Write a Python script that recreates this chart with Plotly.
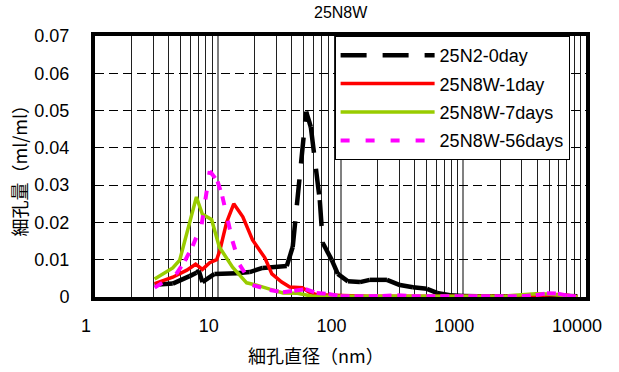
import plotly.graph_objects as go

# ---- data (pore diameter in nm, pore volume in ml/ml) ----
x_0day = [3.06, 4.3, 5.9, 6.7, 7.0, 7.5, 9.4, 14.3, 18.2, 23.2, 36.5, 40.8, 52.5, 57.3,
          67.8, 71.7, 85, 95, 115, 144, 173, 239, 305, 389, 506, 611, 780, 1000, 1300,
          1700, 2200, 2800, 3600, 4600, 5800, 7000, 8500]
y_0day = [0.0033, 0.0036, 0.0056, 0.0065, 0.0071, 0.0040, 0.0062, 0.0064, 0.0067, 0.0078,
          0.0083, 0.0134, 0.0497, 0.0456, 0.0260, 0.0145, 0.0099, 0.0062, 0.0042, 0.0040,
          0.0046, 0.0046, 0.0032, 0.0026, 0.0022, 0.0011, 0.0005, 0.0003, 0.0002, 0.0002,
          0.0002, 0.0002, 0.0003, 0.0004, 0.0005, 0.0003, 0.0002]

x_1day = [3.06, 4.3, 5.6, 6.6, 7.5, 8.6, 9.8, 10.4, 11.8, 13.5, 16.0, 19.2, 24.2, 27.6,
          33.2, 38.6, 49, 56, 64, 80, 100, 130, 170, 220, 290, 380, 500, 650, 850, 1100,
          1400, 1800, 2300, 3000, 3900, 4800, 5900, 7000, 8500]
y_1day = [0.0036, 0.0053, 0.0072, 0.0088, 0.0074, 0.0092, 0.0100, 0.0125, 0.0200, 0.0250,
          0.0215, 0.0153, 0.0105, 0.0062, 0.0040, 0.0027, 0.0025, 0.0012, 0.0006, 0.0005,
          0.0003, 0.0002, 0.0002, 0.0002, 0.0002, 0.0001, 0.0001, 0.0001, 0.0001, 0.0001,
          0.0001, 0.0001, 0.0001, 0.0002, 0.0004, 0.0006, 0.0007, 0.0005, 0.0001]

x_7days = [3.06, 4.3, 4.9, 6.7, 7.5, 8.9, 10.3, 13.2, 17.2, 20.7, 26.5, 34, 44.6, 59,
           80, 100, 130, 170, 220, 290, 380, 500, 650, 850, 1100, 1400, 1800, 2300, 3000,
           3900, 4800, 5900, 7000, 8500]
y_7days = [0.0048, 0.0078, 0.0099, 0.0268, 0.0222, 0.0208, 0.0134, 0.0080, 0.0038, 0.0032,
           0.0021, 0.0011, 0.0010, 0.0002, 0.0002, 0.0002, 0.0002, 0.0002, 0.0002, 0.0002,
           0.0002, 0.0002, 0.0002, 0.0002, 0.0002, 0.0002, 0.0002, 0.0003, 0.0006, 0.0009,
           0.0008, 0.0006, 0.0004, 0.0001]

x_56days = [3.06, 4.6, 5.4, 6.25, 7.4, 8.6, 9.97, 10.9, 13.2, 15.1, 19.2, 26.5, 34, 42,
            52, 64, 80, 100, 130, 170, 220, 290, 380, 500, 650, 850, 1100, 1400, 1800,
            2300, 3000, 3900, 4800, 5900, 7000, 8500]
y_56days = [0.0025, 0.0062, 0.0097, 0.0137, 0.0195, 0.0338, 0.0310, 0.0270, 0.0150, 0.0086,
            0.0032, 0.0019, 0.0013, 0.0017, 0.0021, 0.0011, 0.0008, 0.0002, 0.0002, 0.0002,
            0.0003, 0.0005, 0.0002, 0.0002, 0.0002, 0.0002, 0.0002, 0.0002, 0.0002, 0.0002,
            0.0002, 0.0005, 0.0010, 0.0009, 0.0004, 0.0001]

names = ["25N2-0day", "25N8W-1day", "25N8W-7days", "25N8W-56days"]
x_ticks = [1, 10, 100, 1000, 10000]
y_ticks = [0, 0.01, 0.02, 0.03, 0.04, 0.05, 0.06, 0.07]


def segments(xs, ys):
    """Split a polyline into separate sub-paths so dash patterns restart at each point."""
    sx, sy = [], []
    for i in range(len(xs) - 1):
        sx += [xs[i], xs[i + 1], None]
        sy += [ys[i], ys[i + 1], None]
    return sx, sy


fig = go.Figure()

bx, by = segments(x_0day, y_0day)
fig.add_trace(go.Scatter(x=bx, y=by, mode="lines", name=names[0], legendgroup="g0",
                         connectgaps=False,
                         line=dict(color="black", width=4.5, dash="26px,16px")))
fig.add_trace(go.Scatter(x=x_1day, y=y_1day, mode="lines", name=names[1], legendgroup="g1",
                         line=dict(color="#ff0000", width=3.5)))
fig.add_trace(go.Scatter(x=x_7days, y=y_7days, mode="lines", name=names[2], legendgroup="g2",
                         line=dict(color="#99cc00", width=3.5)))
mx, my = segments(x_56days, y_56days)
fig.add_trace(go.Scatter(x=mx, y=my, mode="lines", name=names[3], legendgroup="g3",
                         connectgaps=False,
                         line=dict(color="#ff00ff", width=4, dash="9px,16px")))

minor_vals = [m * d for d in [1, 10, 100, 1000] for m in range(2, 10)]

fig.update_xaxes(type="log", range=[0, 4], tickvals=x_ticks,
                 ticktext=[str(v) for v in x_ticks],
                 showgrid=True, gridcolor="#808080", gridwidth=1.5,
                 minor=dict(tickvals=minor_vals, showgrid=True, gridcolor="#202020",
                            gridwidth=1, ticks=""),
                 showline=True, mirror=True, linecolor="black", linewidth=4,
                 ticks="", ticklabelstandoff=9, ticklabelshift=-9,
                 tickfont=dict(family="Liberation Sans", size=18, color="black"),
                 zeroline=False)
fig.update_yaxes(range=[0, 0.07], tickvals=y_ticks,
                 ticktext=["0" if v == 0 else f"{v:.2f}" for v in y_ticks],
                 showgrid=True, gridcolor="black", gridwidth=1, griddash="9px,5px",
                 showline=True, mirror=True, linecolor="black", linewidth=4,
                 ticks="", ticklabelstandoff=18,
                 tickfont=dict(family="Liberation Sans", size=18, color="black"),
                 zeroline=False)

fig.update_layout(
    width=619, height=372,
    margin=dict(l=95, r=33, t=36, b=75),
    paper_bgcolor="white", plot_bgcolor="white",
    showlegend=True,
    legend=dict(x=0.488, y=1.0, xanchor="left", yanchor="top",
                bgcolor="white", bordercolor="black", borderwidth=1,
                font=dict(family="Liberation Sans", size=18, color="black"),
                itemwidth=94, entrywidth=134, tracegroupgap=2),
    annotations=[
        dict(text="25N8W", xref="paper", yref="paper", x=0.5, y=1.0, yshift=24,
             xanchor="center", yanchor="middle", showarrow=False,
             font=dict(family="Liberation Sans", size=16, color="black")),
        dict(text="細孔直径（nm）", xref="paper", yref="paper", x=0.45, y=0,
             yshift=-58, xanchor="center", yanchor="middle", showarrow=False,
             font=dict(family="Noto Sans CJK JP", size=18, color="black")),
        dict(text="細孔量（ml/ml）", xref="paper", yref="paper", x=0, y=0.5,
             xshift=-77, xanchor="center", yanchor="middle", textangle=-90,
             showarrow=False,
             font=dict(family="Noto Sans CJK JP", size=18, color="black")),
    ],
)

fig.write_html("out.html")
